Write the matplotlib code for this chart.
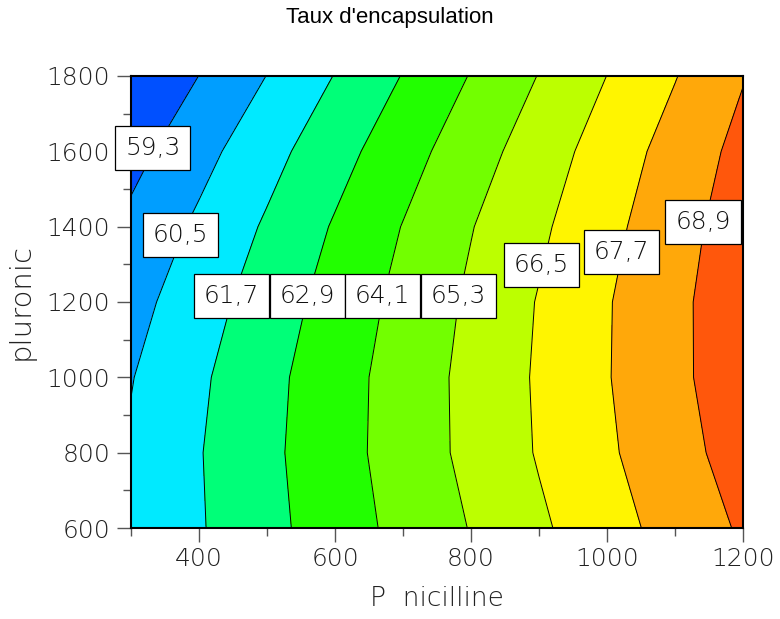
import numpy as np
import matplotlib
matplotlib.use("Agg")
import matplotlib.pyplot as plt
from matplotlib.ticker import MultipleLocator

# grille (Pénicilline x pluronic)
penicilline = [300, 400, 500, 600, 700, 800, 900, 1000, 1100, 1200]
pluronic = [600, 800, 1000, 1200, 1400, 1600, 1800]

taux_600 = [60.64, 61.60, 62.56, 63.51, 64.44, 65.35, 66.31, 67.24, 68.15, 69.05]
taux_800 = [60.64, 61.64, 62.64, 63.63, 64.62, 65.60, 66.59, 67.53, 68.47, 69.41]
taux_1000 = [60.45, 61.51, 62.56, 63.59, 64.61, 65.63, 66.64, 67.64, 68.63, 69.62]
taux_1200 = [60.09, 61.18, 62.27, 63.36, 64.43, 65.50, 66.57, 67.62, 68.63, 69.64]
taux_1400 = [59.58, 60.72, 61.85, 63.01, 64.14, 65.25, 66.29, 67.38, 68.45, 69.50]
taux_1600 = [58.90, 60.10, 61.28, 62.45, 63.62, 64.77, 65.90, 67.04, 68.16, 69.25]
taux_1800 = [58.10, 59.31, 60.52, 61.74, 62.95, 64.16, 65.34, 66.51, 67.65, 68.84]

niveaux = [59.3, 60.5, 61.7, 62.9, 64.1, 65.3, 66.5, 67.7, 68.9]

couleurs = ["#0050FF", "#009EFF", "#00EAFF", "#00FF78", "#22FF00",
            "#72FF00", "#BCFF00", "#FFF500", "#FFA80A", "#FF570C"]

X, Y = np.meshgrid(penicilline, pluronic)
Z = np.array([taux_600, taux_800, taux_1000, taux_1200,
              taux_1400, taux_1600, taux_1800])

plt.rcParams["font.family"] = ["DejaVu Sans"]
W = "light"  # trait fin, plus proche de la police d'origine

fig = plt.figure(figsize=(7.8, 6.19), dpi=100)
ax = fig.add_axes([131 / 780, 91 / 619, 612 / 780, 452 / 619])

levels_f = [Z.min() - 1] + niveaux + [Z.max() + 1]
ax.contourf(X, Y, Z, levels=levels_f, colors=couleurs)
ax.contour(X, Y, Z, levels=niveaux, colors="black", linewidths=0.7)

ax.set_xlim(300, 1200)
ax.set_ylim(600, 1800)
ax.xaxis.set_major_locator(MultipleLocator(200))
ax.xaxis.set_minor_locator(MultipleLocator(100))
ax.yaxis.set_major_locator(MultipleLocator(200))
ax.yaxis.set_minor_locator(MultipleLocator(100))

for s in ax.spines.values():
    s.set_linewidth(1.5)
ax.tick_params(which="major", direction="out", length=10, width=1.0,
               color="#555555", labelsize=18, pad=4)
ax.tick_params(which="minor", direction="out", length=5.5, width=1.0,
               color="#555555")
ax.tick_params(axis="y", which="major", pad=5)
for lab in ax.get_xticklabels() + ax.get_yticklabels():
    lab.set_fontweight(W)
    lab.set_color("#222222")

# étiquettes des niveaux (positions des boîtes)
pos_etiquettes = [(332, 1609), (373, 1378), (448, 1216), (560, 1216),
                  (670, 1216), (782, 1216), (904, 1298), (1021, 1333),
                  (1141, 1412)]
for niv, (px, py) in zip(niveaux, pos_etiquettes):
    ax.text(px, py, f"{niv:.1f}".replace(".", ","), ha="center", va="center",
            fontsize=18, fontweight=W, color="#111111", clip_on=False, zorder=5,
            bbox=dict(boxstyle="square,pad=0.4", facecolor="white",
                      edgecolor="black", linewidth=0.9))

ax.set_xlabel("P  nicilline", fontsize=19, fontweight=W, color="#222222")
ax.set_ylabel("pluronic", fontsize=21, fontweight=W, color="#222222")
ax.xaxis.set_label_coords(0.5, -(586 - 528) / 452)
ax.yaxis.set_label_coords((35 - 131) / 612, 0.5)

fig.text(0.5, 1 - 17 / 619, "Taux d'encapsulation", ha="center", va="center",
         fontsize=16, family="Liberation Sans")

fig.savefig("out.png", dpi=100)
